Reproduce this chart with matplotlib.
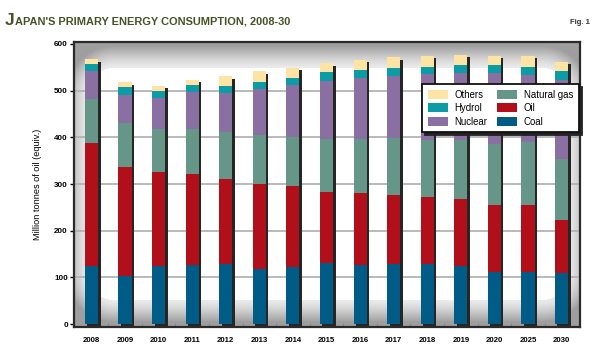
import numpy as np
import matplotlib
matplotlib.use("Agg")
import matplotlib.pyplot as plt
from matplotlib import font_manager
from matplotlib.transforms import ScaledTranslation
from matplotlib.patches import Patch

# ---------------- data ----------------
years = ["2008", "2009", "2010", "2011", "2012", "2013", "2014", "2015",
         "2016", "2017", "2018", "2019", "2020", "2025", "2030"]
coal = [125, 104, 125, 126, 129, 119, 122, 131, 126, 128, 129, 124, 111, 111, 109]
oil = [262, 232, 200, 195, 182, 181, 173, 152, 155, 148, 144, 144, 145, 145, 114]
natural_gas = [96, 94, 92, 96, 101, 104, 105, 113, 115, 122, 122, 127, 129, 133, 130]
nuclear = [58, 61, 67, 79, 82, 99, 111, 124, 130, 133, 140, 142, 152, 145, 170]
hydro = [16, 16, 16, 15, 15, 16, 17, 19, 18, 18, 16, 18, 18, 17, 18]
others = [10, 11, 10, 12, 22, 22, 21, 19, 22, 22, 24, 22, 20, 24, 21]
series_names = ["Coal", "Oil", "Natural gas", "Nuclear", "Hydrol", "Others"]
y_ticks = [0, 100, 200, 300, 400, 500, 600]
title_first = "J"
title_rest = "APAN'S PRIMARY ENERGY CONSUMPTION, 2008-30"
fig_label = "Fig. 1"
y_label = "Million tonnes of oil (equiv.)"

colors = {"Coal": "#005c87", "Oil": "#b10f19", "Natural gas": "#669688",
          "Nuclear": "#8a70a2", "Hydrol": "#0b9ca6", "Others": "#fde3a4"}

# ---------------- fonts ----------------
names = {f.name for f in font_manager.fontManager.ttflist}
if "Liberation Sans Narrow" in names:
    narrow = ["Liberation Sans Narrow", "DejaVu Sans"]
else:
    narrow = ["Liberation Sans", "DejaVu Sans"]
regular = ["Liberation Sans", "DejaVu Sans"]

W_PX, H_PX = 600, 350
fig = plt.figure(figsize=(6, 3.5), dpi=100)
ax_l, ax_r, ax_t, ax_b = 74, 580, 42, 327
ax = fig.add_axes([ax_l / W_PX, 1 - ax_b / H_PX, (ax_r - ax_l) / W_PX, (ax_b - ax_t) / H_PX])

n = len(years)
x = np.arange(n)
ax.set_xlim(-0.52, n - 1 + 0.55)
ax.set_ylim(-6, 604)

# vignette background
aw, ah = ax_r - ax_l, ax_b - ax_t
xx, yy = np.meshgrid(np.arange(aw) + 0.5, np.arange(ah) + 0.5)
L, R, T, B, rc = 14, 12, 26, 27, 26
cx0, cx1 = L + rc, aw - R - rc
cy0, cy1 = T + rc, ah - B - rc
dx = np.maximum(np.maximum(cx0 - xx, xx - cx1), 0)
dy = np.maximum(np.maximum(cy0 - yy, yy - cy1), 0)
dist = np.sqrt(dx ** 2 + dy ** 2) - rc
dark = np.where(dist > 0, 0.08 + 0.30 * np.clip(dist / 22, 0, 1) ** 1.3, 0.0)
img = 1 - dark
ax.imshow(img, cmap="gray", vmin=0, vmax=1, extent=(ax.get_xlim()[0], ax.get_xlim()[1],
          ax.get_ylim()[0], ax.get_ylim()[1]), aspect="auto", zorder=0, interpolation="bilinear")

# grid
for v in y_ticks[1:-1]:
    ax.axhline(v, color="#b3b3b3", lw=1.3, zorder=1)

width = 0.39
stack = [coal, oil, natural_gas, nuclear, hydro, others]
totals = np.sum(np.array(stack), axis=0)

shadow_tr = ax.transData + ScaledTranslation(2.5 / 100, -2.5 / 100, fig.dpi_scale_trans)
ax.bar(x, totals + 6, width=width, bottom=-6, color="#262626", zorder=2, transform=shadow_tr)

bottom = np.zeros(n)
for name, vals in zip(series_names, stack):
    vals = np.array(vals, dtype=float)
    ax.bar(x, vals, width=width, bottom=bottom, color=colors[name], zorder=3, linewidth=0)
    bottom += vals

# axes styling
for s in ax.spines.values():
    s.set_color("#2a2a2a")
    s.set_linewidth(1.6)
    s.set_zorder(5)
ax.set_yticks(y_ticks)
ax.set_yticklabels([str(v) for v in y_ticks], fontfamily=narrow, fontweight="bold", fontsize=5.8)
ax.set_xticks(x)
ax.set_xticklabels(years, fontfamily=narrow, fontweight="bold", fontsize=5.6)
ax.tick_params(axis="x", length=0, pad=7)
ax.tick_params(axis="y", length=3, width=1, direction="out", pad=1.5)
ax.set_xticks(x[:-1] + 0.5, minor=True)
ax.tick_params(axis="x", which="minor", length=3, direction="in", color="#888888", width=0.8)
ax.set_ylabel(y_label, fontfamily=regular, fontsize=6.6, labelpad=9)

# legend
handles = [Patch(facecolor=colors[nm], edgecolor="none") for nm in
           ["Others", "Hydrol", "Nuclear", "Natural gas", "Oil", "Coal"]]
labels = ["Others", "Hydrol", "Nuclear", "Natural gas", "Oil", "Coal"]
leg = ax.legend(handles, labels, ncol=2, loc="upper right", bbox_to_anchor=(0.998, 0.853),
                borderaxespad=0, fancybox=False, framealpha=1, edgecolor="#111111",
                prop={"family": regular, "size": 6.9}, handlelength=2.1, handleheight=1.05,
                handletextpad=0.7, columnspacing=1.0, labelspacing=0.36, borderpad=0.6,
                shadow={"color": "#222222", "alpha": 1.0})
leg.get_frame().set_linewidth(1.3)
leg.set_zorder(10)

# title
fig.canvas.draw()
t1 = fig.text(5 / W_PX, 1 - 25 / H_PX, title_first, fontfamily=narrow, fontweight="bold",
              fontsize=12.5, color="#465226", va="baseline", ha="left")
fig.canvas.draw()
bb = t1.get_window_extent()
fig.text((bb.x1 + 0.5) / W_PX, 1 - 25 / H_PX, title_rest, fontfamily=narrow, fontweight="bold",
         fontsize=7.9, color="#465226", va="baseline", ha="left")
fig.text(590 / W_PX, 1 - 24 / H_PX, fig_label, fontfamily=narrow, fontweight="bold",
         fontsize=5.5, color="#333333", va="baseline", ha="right")

fig.savefig("out.png", dpi=100)
